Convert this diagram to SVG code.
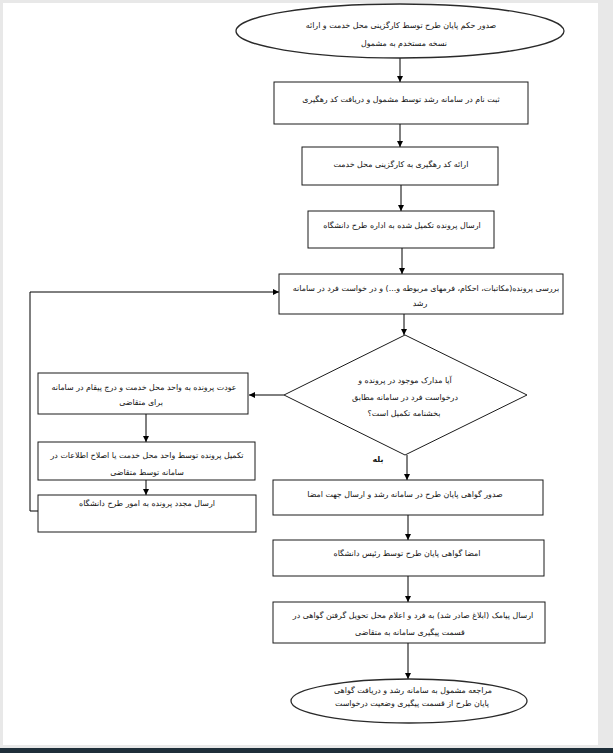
<svg xmlns="http://www.w3.org/2000/svg" width="613" height="753" viewBox="0 0 613 753">
<defs>
<marker id="ah" viewBox="0 0 10 10" refX="10" refY="5" markerWidth="6" markerHeight="6" markerUnits="userSpaceOnUse" orient="auto">
<path d="M0,0 L10,5 L0,10 z" fill="#000"/>
</marker>
<style>
.n{fill:#fff;stroke:#1a1a1a;stroke-width:1}
.e{fill:#fff;stroke:#2a2a2a;stroke-width:1.3}
.t{font-family:"DejaVu Sans",sans-serif;font-size:7.9px;fill:#111;text-anchor:middle;direction:rtl;unicode-bidi:embed}
.c{fill:none;stroke:#000;stroke-width:1;marker-end:url(#ah)}
.l{fill:none;stroke:#000;stroke-width:1}
</style>
</defs>
<rect x="0" y="0" width="613" height="753" fill="#e8e8e8"/>
<rect x="3" y="3" width="595" height="742" fill="#fff"/>
<rect x="0" y="748" width="613" height="5" fill="#1f2f3a"/>

<g id="connectors">
<line class="c" x1="400" y1="58" x2="400" y2="82"/>
<line class="c" x1="400" y1="124" x2="400" y2="147"/>
<line class="c" x1="401" y1="185" x2="401" y2="211"/>
<line class="c" x1="402" y1="248" x2="402" y2="274"/>
<line class="c" x1="404" y1="314" x2="404" y2="335"/>
<line class="c" x1="407" y1="455" x2="407" y2="480"/>
<line class="c" x1="408" y1="515" x2="408" y2="540"/>
<line class="c" x1="408" y1="576" x2="408" y2="602"/>
<line class="c" x1="408" y1="643" x2="408" y2="679"/>
<line class="c" x1="284" y1="395" x2="249" y2="395"/>
<line class="c" x1="146" y1="414" x2="146" y2="442"/>
<line class="c" x1="146" y1="480" x2="146" y2="495"/>
<polyline class="c" points="38,511 30,511 30,292 279,292"/>
</g>

<g id="start">
<ellipse class="e" cx="400" cy="31" rx="164" ry="27"/>
<text class="t" x="401" y="28">صدور حکم پایان طرح توسط کارگزینی محل خدمت و ارائه</text>
<text class="t" x="404" y="46">نسخه مستخدم به مشمول</text>
</g>

<g id="register">
<rect class="n" x="274" y="82" width="254" height="42"/>
<text class="t" x="401" y="102">ثبت نام در سامانه رشد توسط مشمول و دریافت کد رهگیری</text>
</g>

<g id="tracking">
<rect class="n" x="302" y="147" width="196" height="38"/>
<text class="t" x="401" y="167">ارائه کد رهگیری به کارگزینی محل خدمت</text>
</g>

<g id="send">
<rect class="n" x="308" y="211" width="186" height="37"/>
<text class="t" x="402" y="228">ارسال پرونده تکمیل شده به اداره طرح دانشگاه</text>
</g>

<g id="review">
<rect class="n" x="279" y="274" width="284" height="40"/>
<text class="t" x="426" y="291" font-size="7.4">بررسی پرونده(مکاتبات، احکام، فرمهای مربوطه و...) و در خواست فرد در سامانه</text>
<text class="t" x="420" y="306">رشد</text>
</g>

<g id="decision">
<polygon class="n" points="405,335 527,395 405,455 284,395"/>
<text class="t" x="405" y="383">آیا مدارک موجود در پرونده و</text>
<text class="t" x="405" y="400">درخواست فرد در سامانه مطابق</text>
<text class="t" x="404" y="416">بخشنامه تکمیل است؟</text>
</g>

<g id="yes-label">
<text class="t" x="378" y="462" font-weight="bold">بله</text>
</g>

<g id="return">
<rect class="n" x="38" y="373" width="210" height="41"/>
<text class="t" x="144" y="390">عودت پرونده به واحد محل خدمت و درج پیقام در سامانه</text>
<text class="t" x="141" y="405">برای متقاضی</text>
</g>

<g id="complete">
<rect class="n" x="38" y="442" width="217" height="38"/>
<text class="t" x="147" y="458">تکمیل پرونده توسط واحد محل خدمت یا اصلاح اطلاعات در</text>
<text class="t" x="147" y="475">سامانه توسط متقاضی</text>
</g>

<g id="resend">
<rect class="n" x="38" y="495" width="218" height="37"/>
<text class="t" x="147" y="506">ارسال مجدد پرونده به امور طرح دانشگاه</text>
</g>

<g id="issue">
<rect class="n" x="273" y="480" width="270" height="35"/>
<text class="t" x="405" y="497">صدور گواهی پایان طرح در سامانه رشد و ارسال جهت امضا</text>
</g>

<g id="sign">
<rect class="n" x="273" y="540" width="271" height="36"/>
<text class="t" x="407" y="556">امضا گواهی پایان طرح توسط رئیس دانشگاه</text>
</g>

<g id="sms">
<rect class="n" x="273" y="602" width="272" height="41"/>
<text class="t" x="413" y="618">ارسال پیامک (ابلاغ صادر شد) به فرد و اعلام محل تحویل گرفتن گواهی در</text>
<text class="t" x="410" y="635">قسمت پیگیری سامانه به متقاضی</text>
</g>

<g id="end">
<ellipse class="e" cx="409" cy="701" rx="118" ry="22"/>
<text class="t" x="413" y="693">مراجعه مشمول به سامانه رشد و دریافت گواهی</text>
<text class="t" x="412" y="706">پایان طرح از قسمت پیگیری وضعیت درخواست</text>
</g>
</svg>
